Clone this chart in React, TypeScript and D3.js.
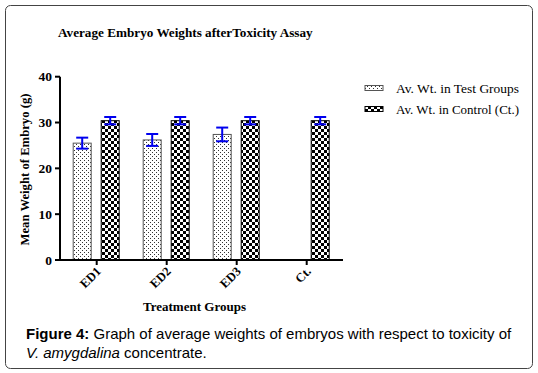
import React from "react";
import * as d3 from "d3";

const categories = ["ED1", "ED2", "ED3", "Ct."];
const testValues: (number | null)[] = [25.5, 26.2, 27.4, null];
const testErrors: (number | null)[] = [1.2, 1.3, 1.5, null];
const controlValues = [30.4, 30.4, 30.4, 30.4];
const controlErrors = [0.8, 0.8, 0.8, 0.8];
const yTicks = [0, 10, 20, 30, 40];
const seriesNames = ["Av. Wt. in Test Groups", "Av. Wt. in Control (Ct.)"];

const serif = "'Liberation Serif', 'DejaVu Serif', serif";

export default function App() {
  const x = d3.scaleBand<string>().domain(categories).range([61.7, 341.7]).padding(0);
  const x1 = d3
    .scaleBand<string>()
    .domain(["test", "control"])
    .range([11.5, 57.5])
    .paddingInner(0.357)
    .paddingOuter(0);
  const y = d3.scaleLinear().domain([0, 40]).range([260, 76.7]);
  const bw = x1.bandwidth();
  const capHalf = 6;

  const errorBar = (cx: number, v: number, e: number, key: string) => (
    <g key={key} stroke="#0000ee" strokeWidth={2} fill="none">
      <line x1={cx} x2={cx} y1={y(v + e)} y2={y(v - e)} />
      <line x1={cx - capHalf} x2={cx + capHalf} y1={y(v + e)} y2={y(v + e)} />
      <line x1={cx - capHalf} x2={cx + capHalf} y1={y(v - e)} y2={y(v - e)} />
    </g>
  );

  return (
    <svg
      width={538}
      height={373}
      style={{ position: "absolute", left: 0, top: 0, background: "#fff" }}
    >
      <defs>
        <pattern id="dots" patternUnits="userSpaceOnUse" width={4} height={4}>
          <rect width={4} height={4} fill="#fff" />
          <rect x={0} y={0} width={1} height={1} fill="#333" />
          <rect x={2} y={2} width={1} height={1} fill="#333" />
        </pattern>
        <pattern id="checker" patternUnits="userSpaceOnUse" width={6} height={6}>
          <rect width={6} height={6} fill="#fff" />
          <rect x={0} y={0} width={3} height={3} fill="#000" />
          <rect x={3} y={3} width={3} height={3} fill="#000" />
        </pattern>
      </defs>
      <rect x={5.5} y={5.5} width={527} height={363} rx={5} fill="#fff" stroke="#444" strokeWidth={1} />

      <text x={58} y={37} fontFamily={serif} fontWeight="bold" fontSize={13.2} fill="#000">
        Average Embryo Weights afterToxicity Assay
      </text>

      {categories.map((c, i) => {
        const x0 = x(c)!;
        const tv = testValues[i];
        const te = testErrors[i];
        const cv = controlValues[i];
        const ce = controlErrors[i];
        return (
          <g key={c}>
            {tv != null && (
              <rect
                x={x0 + x1("test")!}
                y={y(tv)}
                width={bw}
                height={y(0) - y(tv)}
                fill="url(#dots)"
                stroke="#555"
                strokeWidth={1}
              />
            )}
            <rect
              x={x0 + x1("control")!}
              y={y(cv)}
              width={bw}
              height={y(0) - y(cv)}
              fill="url(#checker)"
              stroke="#000"
              strokeWidth={1}
            />
            {tv != null && te != null && errorBar(x0 + x1("test")! + bw / 2, tv, te, "et")}
            {errorBar(x0 + x1("control")! + bw / 2, cv, ce, "ec")}
          </g>
        );
      })}

      <line x1={60} x2={60} y1={y(40)} y2={y(0)} stroke="#000" strokeWidth={2} />
      {yTicks.map((t) => (
        <g key={t}>
          <line x1={55} x2={60} y1={y(t)} y2={y(t)} stroke="#000" strokeWidth={2} />
          <text
            x={52}
            y={y(t)}
            dy="0.35em"
            textAnchor="end"
            fontFamily={serif}
            fontWeight="bold"
            fontSize={13.5}
          >
            {t}
          </text>
        </g>
      ))}
      <line x1={59} x2={343} y1={y(0)} y2={y(0)} stroke="#000" strokeWidth={2} />
      {categories.map((c) => {
        const cx = x(c)! + x.bandwidth() / 2;
        return (
          <g key={c}>
            <line x1={cx} x2={cx} y1={y(0)} y2={y(0) + 5} stroke="#000" strokeWidth={2} />
            <text
              transform={`translate(${cx + 2},${y(0) + 9}) rotate(-45)`}
              textAnchor="end"
              dy="0.35em"
              fontFamily={serif}
              fontWeight="bold"
              fontSize={12.5}
            >
              {c}
            </text>
          </g>
        );
      })}

      <text
        transform="translate(29,169.5) rotate(-90)"
        textAnchor="middle"
        fontFamily={serif}
        fontWeight="bold"
        fontSize={12.7}
      >
        Mean Weight of Embryo (g)
      </text>
      <text x={194.5} y={311} textAnchor="middle" fontFamily={serif} fontWeight="bold" fontSize={13}>
        Treatment Groups
      </text>

      {seriesNames.map((s, i) => (
        <g key={s} transform={`translate(365,${88 + i * 21})`}>
          <rect
            x={0}
            y={-2.5}
            width={18}
            height={5}
            fill={i === 0 ? "url(#dots)" : "url(#checker)"}
            stroke={i === 0 ? "#555" : "#000"}
          />
          <text
            x={31}
            y={0}
            dy="0.35em"
            fontFamily={serif}
            fontSize={13.5}
            textLength={123}
            lengthAdjust="spacingAndGlyphs"
          >
            {s}
          </text>
        </g>
      ))}

      <text x={26} y={339} fontFamily="'Liberation Sans', Arial, sans-serif" fontSize={15}>
        <tspan fontWeight="bold">Figure 4:</tspan> Graph of average weights of embryos with respect to toxicity of
      </text>
      <text x={26} y={358} fontFamily="'Liberation Sans', Arial, sans-serif" fontSize={15}>
        <tspan fontStyle="italic">V. amygdalina</tspan> concentrate.
      </text>
    </svg>
  );
}
